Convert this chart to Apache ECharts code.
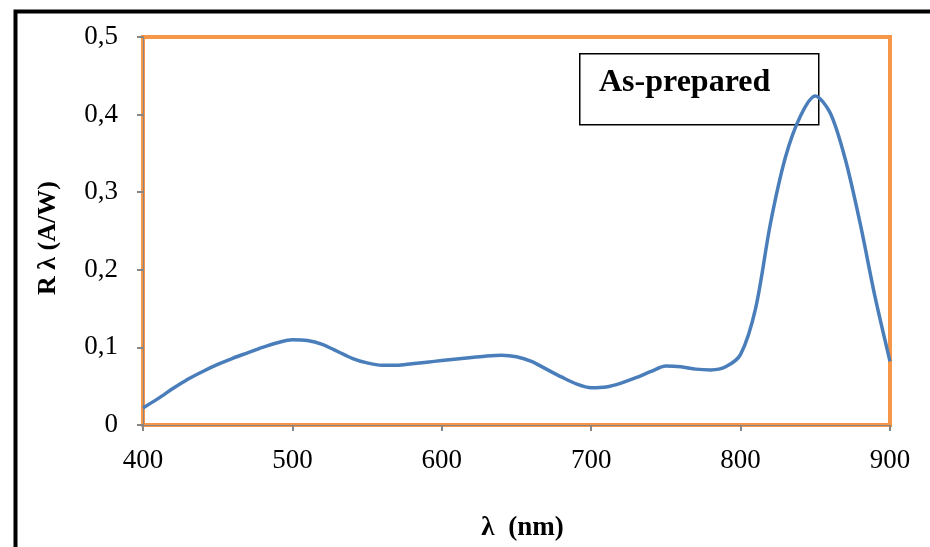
<!DOCTYPE html>
<html>
<head>
<meta charset="utf-8">
<script src="https://cdn.jsdelivr.net/npm/echarts@6/dist/echarts.min.js"></script>
<style>
html,body{margin:0;padding:0;background:#fff;}
#chart{width:930px;height:547px;}
</style>
</head>
<body>
<div id="chart"></div>
<script>
// Wavelength (nm) and responsivity R λ (A/W)
const wavelengths = [400,410,420,430,440,450,460,470,480,490,500,510,520,530,540,550,560,570,580,590,600,610,620,630,640,650,660,670,680,690,700,710,720,730,740,750,760,770,780,790,800,810,820,830,840,850,860,870,880,890,900];
const responsivity = [0.022,0.034,0.047,0.059,0.069,0.078,0.086,0.093,0.100,0.106,0.110,0.109,0.104,0.095,0.086,0.080,0.077,0.077,0.079,0.081,0.083,0.085,0.087,0.089,0.090,0.088,0.082,0.072,0.062,0.053,0.048,0.049,0.054,0.061,0.069,0.076,0.075,0.072,0.071,0.075,0.091,0.150,0.260,0.345,0.398,0.424,0.402,0.343,0.260,0.165,0.082];
const yTickLabels = ['0','0,1','0,2','0,3','0,4','0,5'];
const xTickLabels = ['400','500','600','700','800','900'];
const legendText = 'As-prepared';
const xTitle = 'λ  (nm)';
const yTitle = 'R λ (A/W)';

const chart = echarts.init(document.getElementById('chart'), null, {renderer:'canvas'});
const serif = '"Liberation Serif", "DejaVu Serif", serif';
chart.setOption({
  animation:false,
  backgroundColor:'#fff',
  grid:{left:143, top:37, right:40, bottom:117, show:true, borderColor:'#F79646', borderWidth:4, backgroundColor:'transparent'},
  xAxis:{
    type:'value', min:400, max:900, interval:100,
    name:xTitle, nameLocation:'middle', nameGap:90,
    nameTextStyle:{fontFamily:serif, fontWeight:'bold', fontSize:27, color:'#000', padding:[0,0,0,12]},
    axisLine:{show:true, lineStyle:{color:'#868686', width:1}},
    axisTick:{show:true, length:6, lineStyle:{color:'#868686', width:2}},
    splitLine:{show:false},
    axisLabel:{fontFamily:serif, fontSize:27, color:'#000', margin:22,
      formatter:(v)=>xTickLabels[Math.round((v-400)/100)]}
  },
  yAxis:{
    type:'value', min:0, max:0.5, interval:0.1,
    name:yTitle, nameLocation:'middle', nameGap:82, nameRotate:90,
    nameTextStyle:{fontFamily:serif, fontWeight:'bold', fontSize:26, color:'#000', padding:[0,14,0,0]},
    axisLine:{show:true, lineStyle:{color:'#868686', width:1}},
    axisTick:{show:true, length:6, lineStyle:{color:'#868686', width:2}},
    splitLine:{show:false},
    axisLabel:{fontFamily:serif, fontSize:27, color:'#000', margin:25,
      formatter:(v)=>yTickLabels[Math.round(v*10)]}
  },
  graphic:[
    {type:'rect', left:13, top:9, z:0, silent:true,
      shape:{width:1000, height:700}, style:{fill:'none', stroke:'#000', lineWidth:4}},
    {type:'rect', left:579, top:53, z:1,
      shape:{width:239, height:71}, style:{fill:'#fff', stroke:'#000', lineWidth:1.5}},
    {type:'text', left:599, top:67, z:1,
      style:{text:legendText, fontFamily:serif, fontWeight:'bold', fontSize:32, fill:'#000'}}
  ],
  series:[{
    type:'line', data:wavelengths.map((x,i)=>[x,responsivity[i]]),
    smooth:0.3, showSymbol:false, z:5,
    lineStyle:{color:'#4A7EBB', width:3.5}
  }]
});
</script>
</body>
</html>
